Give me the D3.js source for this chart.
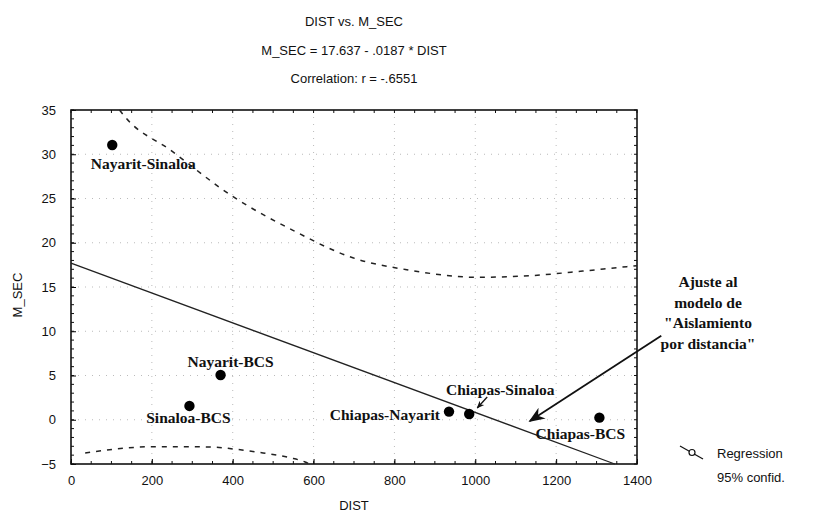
<!DOCTYPE html>
<html>
<head>
<meta charset="utf-8">
<script src="https://cdn.jsdelivr.net/npm/d3@7"></script>
<style>
  body { margin: 0; background: #fff; }
  svg { display: block; }
  .tick text { font-family: "Liberation Sans", Arial, sans-serif; font-size: 13px; fill: #111; }
  .pt-label { font-family: "Liberation Serif", "Times New Roman", serif; font-weight: bold; font-size: 15.5px; fill: #111; }
  .note { font-family: "Liberation Serif", "Times New Roman", serif; font-weight: bold; font-size: 15.5px; fill: #111; }
  .title, .axis-label, .legend { font-family: "Liberation Sans", Arial, sans-serif; font-size: 13px; fill: #111; }
</style>
</head>
<body>
<svg width="814" height="523"></svg>
<script>
// data
let pairs = ["Nayarit-Sinaloa", "Nayarit-BCS", "Sinaloa-BCS", "Chiapas-Nayarit", "Chiapas-Sinaloa", "Chiapas-BCS"];
let dist = [102, 370, 293, 935, 985, 1307];
let msec = [31.05, 5.06, 1.56, 0.92, 0.65, 0.24];

// regression line (as drawn)
let fitDist = [0, 1345];
let fitMsec = [17.7, -5];

// 95% confidence band
let upperDist = [120, 134, 245, 401, 549, 697, 838, 1004, 1143, 1266, 1375, 1400];
let upperMsec = [35, 34.2, 30.5, 25.2, 21.4, 18.3, 16.9, 16.1, 16.3, 16.8, 17.3, 17.4];
let lowerDist = [35, 208, 344, 401, 475, 542, 579, 590];
let lowerMsec = [-3.75, -3.04, -3.07, -3.3, -3.75, -4.3, -4.77, -5];

let xTicks = [0, 200, 400, 600, 800, 1000, 1200, 1400];
let yTicks = [-5, 0, 5, 10, 15, 20, 25, 30, 35];

let titles = ["DIST vs. M_SEC", "M_SEC = 17.637 - .0187 * DIST", "Correlation: r = -.6551"];
let noteLines = ["Ajuste al", "modelo de", "\"Aislamiento", "por distancia\""];
let legendLines = ["Regression", "95% confid."];

// label placement relative to its point (px)
let labelOffset = {
  "Nayarit-Sinaloa": [31, 24, "middle"],
  "Nayarit-BCS": [10, -8, "middle"],
  "Sinaloa-BCS": [-1, 17, "middle"],
  "Chiapas-Nayarit": [-9, 8, "end"],
  "Chiapas-Sinaloa": [31, -19, "middle"],
  "Chiapas-BCS": [-19, 21, "middle"]
};

let svg = d3.select("svg");
let pL = 71, pR = 637, pT = 110, pB = 464;

let x = d3.scaleLinear().domain([0, 1400]).range([pL, pR]);
let y = d3.scaleLinear().domain([-5, 35]).range([pB, pT]);

// faint dotted grid
let grid = svg.append("g").attr("stroke", "#aaa").attr("stroke-width", 0.8).attr("stroke-dasharray", "1,6");
grid.selectAll("line.gx").data(xTicks.slice(1, -1)).join("line")
  .attr("x1", d => x(d)).attr("x2", d => x(d)).attr("y1", pT).attr("y2", pB);
grid.selectAll("line.gy").data(yTicks.slice(1, -1)).join("line")
  .attr("y1", d => y(d)).attr("y2", d => y(d)).attr("x1", pL).attr("x2", pR);

// axes with inward ticks
svg.append("g").attr("transform", "translate(0," + pB + ")")
  .call(d3.axisBottom(x).tickValues(xTicks).tickSize(-5).tickPadding(12).tickFormat(d3.format("d")))
  .call(g => g.select(".domain").remove());
svg.append("g").attr("transform", "translate(" + pL + ",0)")
  .call(d3.axisLeft(y).tickValues(yTicks).tickSize(-5).tickPadding(15))
  .call(g => g.select(".domain").remove());

// minor ticks on all four sides
let minor = svg.append("g").attr("stroke", "#111").attr("stroke-width", 1);
let xm = d3.range(0, 1401, 50), ym = d3.range(-5, 35.1, 1);
minor.selectAll("line.mb").data(xm).join("line")
  .attr("x1", d => x(d)).attr("x2", d => x(d)).attr("y1", pB).attr("y2", pB - 3);
minor.selectAll("line.mt").data(xm).join("line")
  .attr("x1", d => x(d)).attr("x2", d => x(d)).attr("y1", pT).attr("y2", pT + 3);
minor.selectAll("line.ml").data(ym).join("line")
  .attr("y1", d => y(d)).attr("y2", d => y(d)).attr("x1", pL).attr("x2", pL + 3);
minor.selectAll("line.mr").data(ym).join("line")
  .attr("y1", d => y(d)).attr("y2", d => y(d)).attr("x1", pR).attr("x2", pR - 3);

// frame
svg.append("rect").attr("x", pL).attr("y", pT).attr("width", pR - pL).attr("height", pB - pT)
  .attr("fill", "none").attr("stroke", "#111").attr("stroke-width", 1.6);

let line = d3.line().x(d => x(d[0])).y(d => y(d[1])).curve(d3.curveMonotoneX);

svg.append("path").datum(d3.zip(fitDist, fitMsec)).attr("d", line)
  .attr("fill", "none").attr("stroke", "#222").attr("stroke-width", 1.3);

svg.append("path").datum(d3.zip(upperDist, upperMsec)).attr("d", line)
  .attr("fill", "none").attr("stroke", "#222").attr("stroke-width", 1.5).attr("stroke-dasharray", "5,6");
svg.append("path").datum(d3.zip(lowerDist, lowerMsec)).attr("d", line)
  .attr("fill", "none").attr("stroke", "#222").attr("stroke-width", 1.5).attr("stroke-dasharray", "5,6");

// points + labels
svg.selectAll("circle.pt").data(pairs).join("circle")
  .attr("class", "pt")
  .attr("cx", (d, i) => x(dist[i])).attr("cy", (d, i) => y(msec[i])).attr("r", 5.2)
  .attr("fill", "#000");
svg.selectAll("text.pt-label").data(pairs).join("text")
  .attr("class", "pt-label")
  .attr("x", (d, i) => x(dist[i]) + labelOffset[d][0])
  .attr("y", (d, i) => y(msec[i]) + labelOffset[d][1])
  .attr("text-anchor", d => labelOffset[d][2])
  .text(d => d);

// arrow heads
let defs = svg.append("defs");
defs.append("marker").attr("id", "head").attr("viewBox", "0 0 10 10")
  .attr("refX", 9).attr("refY", 5).attr("markerWidth", 9).attr("markerHeight", 9).attr("orient", "auto")
  .append("path").attr("d", "M0,1 L10,5 L0,9 L3,5 Z").attr("fill", "#111");
defs.append("marker").attr("id", "head-s").attr("viewBox", "0 0 10 10")
  .attr("refX", 9).attr("refY", 5).attr("markerWidth", 6).attr("markerHeight", 6).attr("orient", "auto")
  .append("path").attr("d", "M0,1 L10,5 L0,9 L3,5 Z").attr("fill", "#111");

// small arrow from the Chiapas-Sinaloa label to its point
svg.append("line")
  .attr("x1", x(985) + 18).attr("y1", y(0.65) - 17)
  .attr("x2", x(985) + 8).attr("y2", y(0.65) - 6)
  .attr("stroke", "#111").attr("stroke-width", 1.3).attr("marker-end", "url(#head-s)");

// big arrow from the note to the fit line
svg.append("line")
  .attr("x1", x(1460)).attr("y1", y(9.5))
  .attr("x2", x(1135)).attr("y2", y(-0.15))
  .attr("stroke", "#111").attr("stroke-width", 1.8).attr("marker-end", "url(#head)");

svg.selectAll("text.note").data(noteLines).join("text")
  .attr("class", "note")
  .attr("x", 708).attr("y", (d, i) => 287 + i * 20.5)
  .attr("text-anchor", "middle")
  .text(d => d);

// titles
svg.selectAll("text.title").data(titles).join("text")
  .attr("class", "title")
  .attr("x", (pL + pR) / 2).attr("y", (d, i) => 26 + i * 28.5)
  .attr("text-anchor", "middle")
  .text(d => d);

svg.append("text").attr("class", "axis-label")
  .attr("x", (pL + pR) / 2).attr("y", 510).attr("text-anchor", "middle").text("DIST");
svg.append("text").attr("class", "axis-label")
  .attr("transform", "translate(22," + ((pT + pB) / 2 + 8) + ") rotate(-90)")
  .attr("text-anchor", "middle").text("M_SEC");

// legend
let lg = svg.append("g");
lg.append("line").attr("x1", 680).attr("y1", 446).attr("x2", 703).attr("y2", 459)
  .attr("stroke", "#111").attr("stroke-width", 1.2);
lg.append("circle").attr("cx", 692).attr("cy", 452.5).attr("r", 3)
  .attr("fill", "#fff").attr("stroke", "#111").attr("stroke-width", 1.2);
lg.selectAll("text").data(legendLines).join("text")
  .attr("class", "legend")
  .attr("x", 717).attr("y", (d, i) => 458 + i * 24)
  .text(d => d);
</script>
</body>
</html>
